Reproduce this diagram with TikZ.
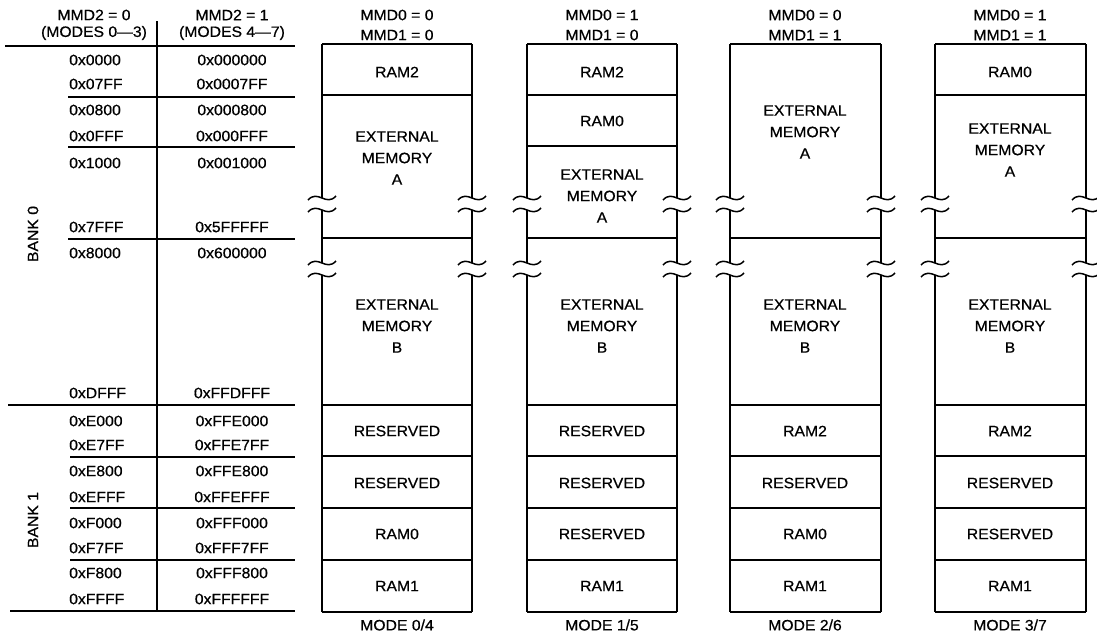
\documentclass[tikz,border=0pt]{standalone}
\usepackage{fontspec}
\setmainfont{Liberation Sans}[FakeStretch=1.05, FakeBold=0.6]
\usepackage{tikz}
\usetikzlibrary{positioning,calc}

\begin{document}
\begin{tikzpicture}[
  x=1pt, y=-1pt,
  font=\fontsize{15}{21.5}\selectfont,
  rule/.style={line width=2pt},
  frame/.style={line width=1.9pt},
  brk/.style={line width=1.5pt},
  lbl/.style={inner sep=0pt, align=center},
  addr/.style={inner sep=0pt, anchor=west}
]
\useasboundingbox (0,0) rectangle (1097,635);

% address table
\node[lbl] (h0a) at (94,15) {MMD2 = 0};
\node[lbl] (h0b) at (94,33) {(MODES 0—3)};
\node[lbl] (h1a) at (232,15) {MMD2 = 1};
\node[lbl] (h1b) at (232,33) {(MODES 4—7)};
\draw[rule] (5,46) -- (295,46);
\draw[rule] (157,21) -- (157,611);
\draw[rule] (68,97) -- (295,97);
\draw[rule] (68,147) -- (295,147);
\draw[rule] (68,239) -- (295,239);
\draw[rule] (8,405) -- (295,405);
\draw[rule] (70,457) -- (295,457);
\draw[rule] (70,508) -- (295,508);
\draw[rule] (70,560) -- (295,560);
\draw[rule] (10,611) -- (295,611);

\node[lbl, rotate=90] (bank0) at (33,234) {BANK 0};
\node[lbl, rotate=90] (bank1) at (33,520) {BANK 1};

\foreach \ya/\lo/\hi in {60/0x0000/0x000000, 84/0x07FF/0x0007FF,
    110/0x0800/0x000800, 136/0x0FFF/0x000FFF, 163/0x1000/0x001000,
    227/0x7FFF/0x5FFFFF, 253/0x8000/0x600000, 393/0xDFFF/0xFFDFFF,
    421/0xE000/0xFFE000, 445/0xE7FF/0xFFE7FF, 471/0xE800/0xFFE800,
    497/0xEFFF/0xFFEFFF, 523/0xF000/0xFFF000, 548/0xF7FF/0xFFF7FF,
    573/0xF800/0xFFF800, 599/0xFFFF/0xFFFFFF}{
  \node[addr] (lo-\ya) at (69,\ya) {\lo};
  \node[lbl] (hi-\ya) at (232,\ya) {\hi};
}

% memory columns
\foreach \l/\r in {322/472, 527/677, 730/881, 935/1086}{
  \draw[frame] (\l,44) -- (\r,44);
  \draw[frame] (\l,612) -- (\r,612);
  \foreach \e in {\l,\r}{
    \draw[frame] (\e,44) -- (\e,198);
    \draw[frame] (\e,210) -- (\e,263);
    \draw[frame] (\e,275) -- (\e,612);
    \foreach \ey in {198,210,263,275}
      \draw[brk] (\e-14,\ey+2) .. controls (\e-4,\ey-9) and (\e+4,\ey+9) .. (\e+14,\ey-2);
  }
  \foreach \ry in {238,405,456,508,560}
    \draw[frame] (\l,\ry) -- (\r,\ry);
}
\draw[frame] (322,95) -- (472,95);
\draw[frame] (527,95) -- (677,95);
\draw[frame] (527,146) -- (677,146);
\draw[frame] (935,95) -- (1086,95);

% MODE 0/4
\node[lbl] (m0t) at (397,25) {MMD0 = 0\\[-1.5pt]MMD1 = 0};
\node[lbl] (m0c1) at (397,72) {RAM2};
\node[lbl] (m0c2) at (397,158) {EXTERNAL\\MEMORY\\A};
\node[lbl] (m0c3) at (397,326) {EXTERNAL\\MEMORY\\B};
\node[lbl] (m0c4) at (397,431) {RESERVED};
\node[lbl] (m0c5) at (397,483) {RESERVED};
\node[lbl] (m0c6) at (397,534) {RAM0};
\node[lbl] (m0c7) at (397,586) {RAM1};
\node[lbl] (m0b) at (397,625) {MODE 0/4};

% MODE 1/5
\node[lbl] (m1t) at (602,25) {MMD0 = 1\\[-1.5pt]MMD1 = 0};
\node[lbl] (m1c1) at (602,72) {RAM2};
\node[lbl] (m1c2) at (602,121) {RAM0};
\node[lbl] (m1c3) at (602,196) {EXTERNAL\\MEMORY\\A};
\node[lbl] (m1c4) at (602,326) {EXTERNAL\\MEMORY\\B};
\node[lbl] (m1c5) at (602,431) {RESERVED};
\node[lbl] (m1c6) at (602,483) {RESERVED};
\node[lbl] (m1c7) at (602,534) {RESERVED};
\node[lbl] (m1c8) at (602,586) {RAM1};
\node[lbl] (m1b) at (602,625) {MODE 1/5};

% MODE 2/6
\node[lbl] (m2t) at (805,25) {MMD0 = 0\\[-1.5pt]MMD1 = 1};
\node[lbl] (m2c1) at (805,132) {EXTERNAL\\MEMORY\\A};
\node[lbl] (m2c2) at (805,326) {EXTERNAL\\MEMORY\\B};
\node[lbl] (m2c3) at (805,431) {RAM2};
\node[lbl] (m2c4) at (805,483) {RESERVED};
\node[lbl] (m2c5) at (805,534) {RAM0};
\node[lbl] (m2c6) at (805,586) {RAM1};
\node[lbl] (m2b) at (805,625) {MODE 2/6};

% MODE 3/7
\node[lbl] (m3t) at (1010,25) {MMD0 = 1\\[-1.5pt]MMD1 = 1};
\node[lbl] (m3c1) at (1010,72) {RAM0};
\node[lbl] (m3c2) at (1010,150) {EXTERNAL\\MEMORY\\A};
\node[lbl] (m3c3) at (1010,326) {EXTERNAL\\MEMORY\\B};
\node[lbl] (m3c4) at (1010,431) {RAM2};
\node[lbl] (m3c5) at (1010,483) {RESERVED};
\node[lbl] (m3c6) at (1010,534) {RESERVED};
\node[lbl] (m3c7) at (1010,586) {RAM1};
\node[lbl] (m3b) at (1010,625) {MODE 3/7};
\end{tikzpicture}
\end{document}
